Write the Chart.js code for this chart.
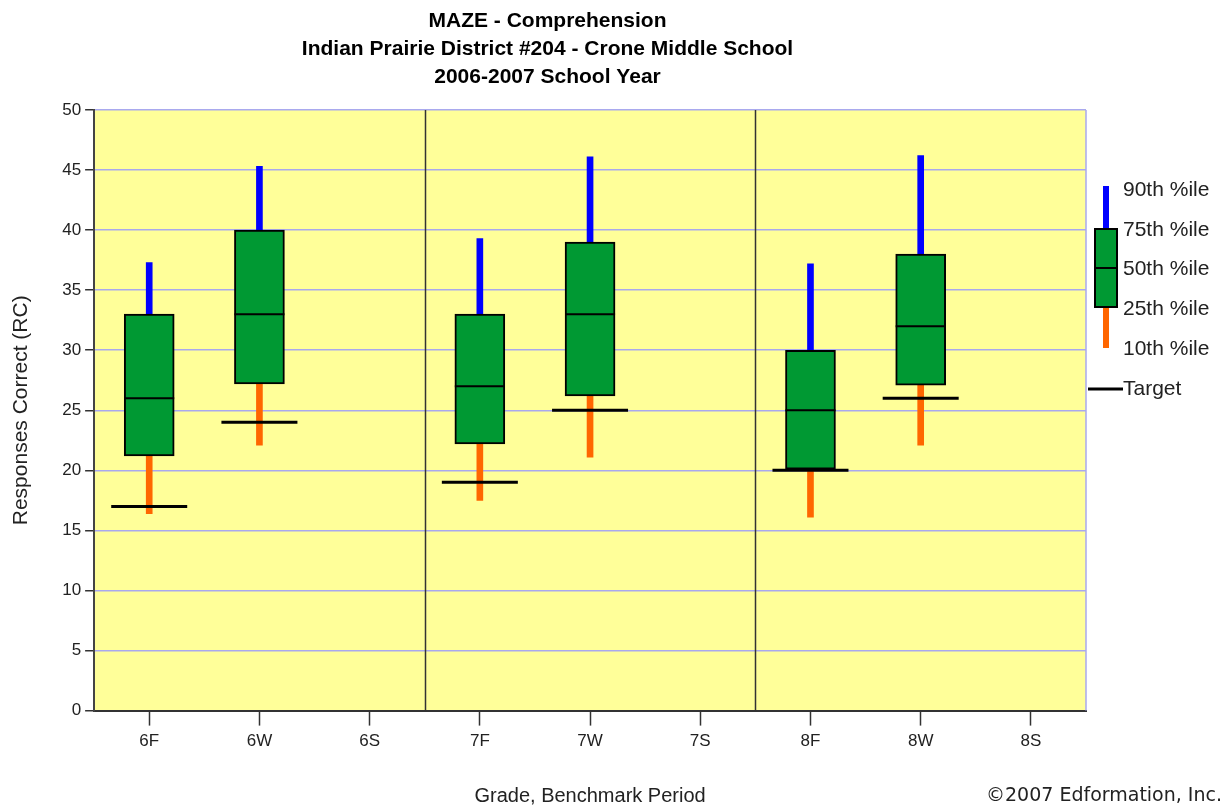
<!DOCTYPE html>
<html>
<head>
<meta charset="utf-8">
<script src="https://cdn.jsdelivr.net/npm/chart.js@4.4.1/dist/chart.umd.min.js"></script>
<style>
  html, body { margin: 0; padding: 0; background: #ffffff; }
  #wrap { width: 1228px; height: 810px; position: relative; }
</style>
</head>
<body>
<div id="wrap"><canvas id="chart-maze"></canvas></div>
<script>
// ===== MAZE box plot data =====
const periods = ['6F', '6W', '6S', '7F', '7W', '7S', '8F', '8W', '8S'];
const pct10 = [16.4, 22.1, null, 17.5, 21.1, null, 16.1, 22.1, null];
const pct25 = [21.2, 27.2, null, 22.2, 26.2, null, 20.1, 27.1, null];
const pct50 = [26, 33, null, 27, 33, null, 25, 32, null];
const pct75 = [33, 40, null, 33, 39, null, 30, 38, null];
const pct90 = [37.3, 45.3, null, 39.3, 46.1, null, 37.2, 46.2, null];
const targets = [17, 24, null, 19, 25, null, 20, 26, null];
const yTicks = [0, 5, 10, 15, 20, 25, 30, 35, 40, 45, 50];
const legendLabels = ['90th %ile', '75th %ile', '50th %ile', '25th %ile', '10th %ile'];

const THEME = {
  ink: '#000000',
  text: '#222222',
  axis: '#333333',
  grid: '#a9a9ee',
  plotBg: '#ffff99',
  box: '#009933',
  upper: '#0000ff',
  lower: '#ff6600',
};
const FONT = 'Liberation Sans, Arial, sans-serif';

const range = (lo, hi) => lo.map((v, i) => (v == null || hi[i] == null ? null : [v, hi[i]]));

// plot background, group separators, right border
const plotDecor = {
  id: 'plotDecor',
  beforeDraw(chart) {
    const { ctx, chartArea: a } = chart;
    ctx.save();
    ctx.fillStyle = THEME.plotBg;
    ctx.fillRect(a.left, a.top, a.right - a.left, a.bottom - a.top);
    ctx.restore();
  },
  beforeDatasetsDraw(chart) {
    const { ctx, chartArea: a, scales: { x } } = chart;
    ctx.save();
    ctx.strokeStyle = THEME.axis;
    ctx.lineWidth = 1.5;
    [2.5, 5.5].forEach((v) => {
      const px = Math.round(x.getPixelForValue(v)) + 0.5;
      ctx.beginPath();
      ctx.moveTo(px, a.top);
      ctx.lineTo(px, a.bottom);
      ctx.stroke();
    });
    ctx.strokeStyle = THEME.grid;
    ctx.beginPath();
    ctx.moveTo(a.right, a.top);
    ctx.lineTo(a.right, a.bottom);
    ctx.stroke();
    ctx.restore();
  },
};

// box plot key on the right + copyright
const boxKey = {
  id: 'boxKey',
  afterDraw(chart) {
    const { ctx, chartArea: a } = chart;
    const cx = a.right + 20;
    ctx.save();
    ctx.lineCap = 'butt';
    ctx.lineWidth = 6;
    ctx.strokeStyle = THEME.upper;
    ctx.beginPath(); ctx.moveTo(cx, 186); ctx.lineTo(cx, 229); ctx.stroke();
    ctx.strokeStyle = THEME.lower;
    ctx.beginPath(); ctx.moveTo(cx, 307); ctx.lineTo(cx, 348); ctx.stroke();
    ctx.fillStyle = THEME.box;
    ctx.fillRect(cx - 11, 229, 22, 78);
    ctx.strokeStyle = THEME.ink;
    ctx.lineWidth = 2;
    ctx.strokeRect(cx - 11, 229, 22, 78);
    ctx.beginPath(); ctx.moveTo(cx - 11, 268); ctx.lineTo(cx + 11, 268); ctx.stroke();
    ctx.lineWidth = 3;
    ctx.beginPath(); ctx.moveTo(a.right + 2, 389); ctx.lineTo(a.right + 37, 389); ctx.stroke();

    ctx.fillStyle = THEME.text;
    ctx.font = `21px ${FONT}`;
    ctx.textBaseline = 'middle';
    ctx.textAlign = 'left';
    legendLabels.forEach((t, i) => ctx.fillText(t, a.right + 37, 190 + i * 39.8));
    ctx.fillText('Target', a.right + 37, 389);

    ctx.font = '19px DejaVu Sans, Verdana, sans-serif';
    ctx.textAlign = 'right';
    ctx.fillText('\u00a92007 Edformation, Inc.', 1222, 796);
    ctx.restore();
  },
};

const ctx = document.getElementById('chart-maze');
new Chart(ctx, {
  type: 'bar',
  data: {
    labels: periods,
    datasets: [
      {
        type: 'line',
        label: 'Target',
        data: targets,
        showLine: false,
        pointStyle: 'line',
        pointRadius: 38,
        pointBorderWidth: 3,
        borderColor: THEME.ink,
        order: 0,
      },
      {
        type: 'line',
        label: '50th %ile',
        data: pct50,
        showLine: false,
        pointStyle: 'line',
        pointRadius: 25,
        pointBorderWidth: 2,
        borderColor: THEME.ink,
        order: 1,
      },
      {
        label: '25th-75th %ile',
        data: range(pct25, pct75),
        backgroundColor: THEME.box,
        borderColor: THEME.ink,
        borderWidth: 2,
        borderSkipped: false,
        barThickness: 50,
        grouped: false,
        order: 2,
      },
      {
        label: '75th-90th %ile',
        data: range(pct75, pct90),
        backgroundColor: THEME.upper,
        borderWidth: 0,
        barThickness: 6,
        grouped: false,
        order: 3,
      },
      {
        label: '10th-25th %ile',
        data: range(pct10, pct25),
        backgroundColor: THEME.lower,
        borderWidth: 0,
        barThickness: 6,
        grouped: false,
        order: 3,
      },
    ],
  },
  options: {
    responsive: true,
    maintainAspectRatio: false,
    animation: false,
    events: [],
    layout: { padding: { left: 9, right: 142, top: 0, bottom: 0 } },
    plugins: {
      legend: { display: false },
      tooltip: { enabled: false },
      title: {
        display: true,
        text: ['MAZE - Comprehension', 'Indian Prairie District #204 - Crone Middle School', '2006-2007 School Year'],
        color: THEME.ink,
        font: { family: FONT, size: 21, weight: 'bold', lineHeight: 1.333 },
        padding: { top: 7, bottom: 19 },
      },
    },
    scales: {
      x: {
        offset: true,
        grid: { display: true, offset: false, drawOnChartArea: false, color: 'transparent', tickColor: THEME.axis, tickLength: 15, tickWidth: 1.5 },
        border: { display: true, color: THEME.axis, width: 2 },
        ticks: { color: THEME.text, font: { family: FONT, size: 17 }, padding: 6 },
        title: {
          display: true,
          text: 'Grade, Benchmark Period',
          color: THEME.text,
          font: { family: FONT, size: 20 },
          padding: { top: 26, bottom: 2 },
        },
      },
      y: {
        min: 0,
        max: 50,
        afterBuildTicks: (axis) => { axis.ticks = yTicks.map((v) => ({ value: v })); },
        grid: { color: THEME.grid, lineWidth: 1.5, tickColor: THEME.axis, tickLength: 9 },
        border: { display: true, color: '#444444', width: 2 },
        ticks: { color: THEME.text, font: { family: FONT, size: 17 }, padding: 4 },
        title: {
          display: true,
          text: 'Responses Correct (RC)',
          color: THEME.text,
          font: { family: FONT, size: 21 },
          padding: { top: 0, bottom: 24 },
        },
      },
    },
  },
  plugins: [plotDecor, boxKey],
});
</script>
</body>
</html>
